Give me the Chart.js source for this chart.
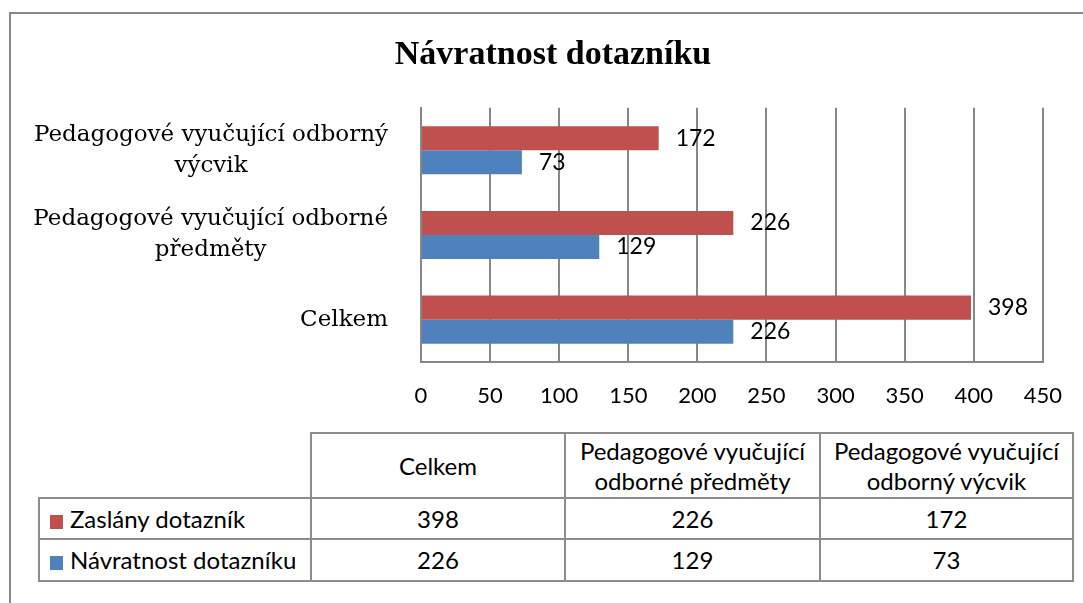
<!DOCTYPE html>
<html>
<head>
<meta charset="utf-8">
<script src="https://cdn.jsdelivr.net/npm/chart.js@4.4.1/dist/chart.umd.min.js"></script>
<style>
  html, body { margin: 0; padding: 0; background: #fff; }
  body { width: 1083px; height: 603px; position: relative; overflow: hidden; }
  .frame { position: absolute; left: 9px; top: 12px; width: 1200px; height: 800px; border: 2px solid #8a8a8a; }
  #chartBox { position: absolute; left: 0; top: 0; width: 1083px; height: 430px; }
  table.dt { position: absolute; left: 38px; top: 432px; border-collapse: collapse;
    font-family: Lato, "Open Sans", sans-serif; font-size: 24px; color: #000; }
  table.dt td { border: 2px solid #8c8c8c; text-align: center; padding: 0; line-height: 30px; }
  table.dt td.blank { border-top: none; border-left: none; }
  table.dt td.name { text-align: left; padding-left: 10px; white-space: nowrap; }
  .key { display: inline-block; width: 13px; height: 14px; margin-right: 7px; vertical-align: -1px; }
</style>
</head>
<body>
<div class="frame"></div>
<div id="chartBox"><canvas id="c" width="1083" height="430"></canvas></div>
<table class="dt" id="dataTable"></table>
<script>
const categories = ['Celkem', 'Pedagogové vyučující odborné předměty', 'Pedagogové vyučující odborný výcvik'];
const headerLines = [['Celkem'], ['Pedagogové vyučující', 'odborné předměty'], ['Pedagogové vyučující', 'odborný výcvik']];
const seriesNames = ['Zaslány dotazník', 'Návratnost dotazníku'];
const zaslany = [398, 226, 172];
const navratnost = [226, 129, 73];
const xTicks = [0, 50, 100, 150, 200, 250, 300, 350, 400, 450];
const colors = ['#C0504D', '#4F81BD'];

const gridColor = '#878787';
const numFont = 'Lato, "Open Sans", sans-serif';
const serif = '"DejaVu Serif", "Liberation Serif", serif';

// category labels, wrapped and centred like Excel does it
const catLabels = {
  id: 'catLabels',
  afterDraw(chart) {
    const ctx = chart.ctx;
    const y = chart.scales.y;
    const right = chart.chartArea.left - 33;
    ctx.save();
    ctx.font = '23px ' + serif;
    ctx.fillStyle = '#000';
    ctx.textBaseline = 'middle';
    ctx.textAlign = 'center';
    chart.data.labels.forEach((lab, i) => {
      const words = lab.split(' ');
      const lines = [];
      let cur = '';
      words.forEach(w => {
        const t = cur ? cur + ' ' + w : w;
        if (ctx.measureText(t).width > 375 && cur) { lines.push(cur); cur = w; } else cur = t;
      });
      lines.push(cur);
      const maxW = Math.max(...lines.map(l => ctx.measureText(l).width));
      const cx = right - maxW / 2;
      const cy = y.getPixelForValue(i);
      lines.forEach((l, k) => {
        ctx.fillText(l, cx, cy + (k - (lines.length - 1) / 2) * 31);
      });
    });
    ctx.restore();
  }
};

// value labels at the bar ends
const valueLabels = {
  id: 'valueLabels',
  afterDatasetsDraw(chart) {
    const ctx = chart.ctx;
    ctx.save();
    ctx.font = '23px ' + numFont;
    ctx.fillStyle = '#000';
    ctx.textBaseline = 'middle';
    ctx.textAlign = 'left';
    chart.data.datasets.forEach((ds, di) => {
      chart.getDatasetMeta(di).data.forEach((bar, i) => {
        ctx.fillText(String(ds.data[i]), bar.x + 17, bar.y);
      });
    });
    ctx.restore();
  }
};

new Chart(document.getElementById('c'), {
  type: 'bar',
  data: {
    labels: categories,
    datasets: [
      { label: seriesNames[0], data: zaslany, backgroundColor: colors[0] },
      { label: seriesNames[1], data: navratnost, backgroundColor: colors[1] }
    ]
  },
  options: {
    indexAxis: 'y',
    responsive: false,
    animation: false,
    categoryPercentage: 0.567,
    barPercentage: 1,
    layout: { padding: { left: 60, right: 37, top: 0, bottom: 0 } },
    scales: {
      x: {
        min: 0, max: 450,
        afterBuildTicks: s => { s.ticks = xTicks.map(v => ({ value: v })); },
        afterFit: s => { s.height = 68; },
        grid: { color: gridColor, lineWidth: 2, drawTicks: false },
        border: { color: gridColor, width: 2 },
        ticks: { padding: 21, color: '#000', font: { family: numFont, size: 22 } }
      },
      y: {
        reverse: true,
        afterFit: s => { s.width = 361; },
        grid: { display: false },
        border: { color: gridColor, width: 2 },
        ticks: { display: false }
      }
    },
    plugins: {
      legend: { display: false },
      tooltip: { enabled: false },
      title: {
        display: true,
        text: 'Návratnost dotazníku',
        color: '#000',
        font: { family: '"Liberation Serif", serif', size: 34, weight: 'bold' },
        padding: { top: 35, bottom: 32 }
      }
    }
  },
  plugins: [catLabels, valueLabels]
});

// data table under the chart
const tbl = document.getElementById('dataTable');
const colW = [271, 252, 253, 251];
let html = '<tr style="height:65px"><td class="blank" style="width:' + colW[0] + 'px"></td>';
headerLines.forEach((h, i) => { html += '<td style="width:' + colW[i + 1] + 'px">' + h.join('<br>') + '</td>'; });
html += '</tr>';
[zaslany, navratnost].forEach((vals, s) => {
  html += '<tr style="height:' + (s === 0 ? 41 : 42) + 'px"><td class="name"><span class="key" style="background:' + colors[s] + '"></span>' + seriesNames[s] + '</td>';
  vals.forEach(v => { html += '<td>' + v + '</td>'; });
  html += '</tr>';
});
tbl.innerHTML = html;
</script>
</body>
</html>
